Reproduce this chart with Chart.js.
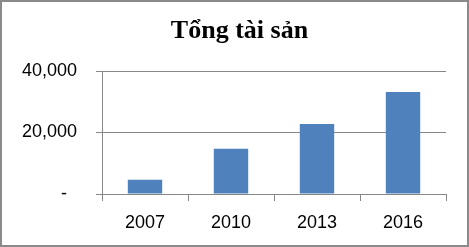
<!DOCTYPE html>
<html>
<head>
<meta charset="utf-8">
<script src="https://cdn.jsdelivr.net/npm/chart.js@4.4.1/dist/chart.umd.min.js"></script>
<style>
  html, body { margin: 0; padding: 0; background: #fff; }
  #wrap { width: 469px; height: 247px; }
</style>
</head>
<body>
<div id="wrap"><canvas id="chart" width="469" height="247"></canvas></div>
<script>
const years = ["2007", "2010", "2013", "2016"];
const totalAssets = [4600, 14700, 22800, 33200];
const yTicks = [0, 20000, 40000];

const gray = "#878787";

// outer frame like the spreadsheet chart border
const frame = {
  id: "frame",
  afterDraw(chart) {
    const c = chart.ctx;
    c.save();
    c.strokeStyle = "#8a8a8a";
    c.lineWidth = 2;
    c.strokeRect(1, 1, chart.width - 2, chart.height - 2);
    c.restore();
  },
};

new Chart(document.getElementById("chart"), {
  type: "bar",
  data: {
    labels: years,
    datasets: [
      {
        data: totalAssets,
        backgroundColor: "#4f81bd",
        barPercentage: 0.4,
        categoryPercentage: 1,
      },
    ],
  },
  options: {
    responsive: false,
    animation: false,
    layout: { padding: { left: 10, right: 0, top: 0, bottom: 0 } },
    plugins: {
      legend: { display: false },
      tooltip: { enabled: false },
      title: {
        display: true,
        text: "Tổng tài sản",
        color: "#000",
        font: { family: "Liberation Serif", size: 26, weight: "bold", lineHeight: 1.2 },
        padding: { top: 16, bottom: 23.8 },
      },
    },
    scales: {
      x: {
        grid: { drawOnChartArea: false, color: gray, tickLength: 7, offset: true },
        border: { color: gray, width: 1 },
        ticks: { color: "#000", font: { family: "Liberation Sans", size: 18 }, padding: 11 },
        afterFit(s) { s.height = 53; },
      },
      y: {
        min: 0,
        max: 40000,
        afterBuildTicks(s) { s.ticks = yTicks.map(v => ({ value: v })); },
        grid: { color: gray, tickLength: 6 },
        border: { color: gray, width: 1 },
        ticks: {
          color: "#000",
          font: { family: "Liberation Sans", size: 18 },
          padding: 19,
          callback: v => (v === 0 ? "-  " : v.toLocaleString("en-US")),
        },
        afterFit(s) { s.width = 92; },
      },
      // empty right-hand space, keeps the title centred like the original
      y2: {
        position: "right",
        grid: { display: false },
        border: { display: false },
        ticks: { display: false },
        afterFit(s) { s.width = 23; },
      },
    },
  },
  plugins: [frame],
});
</script>
</body>
</html>
